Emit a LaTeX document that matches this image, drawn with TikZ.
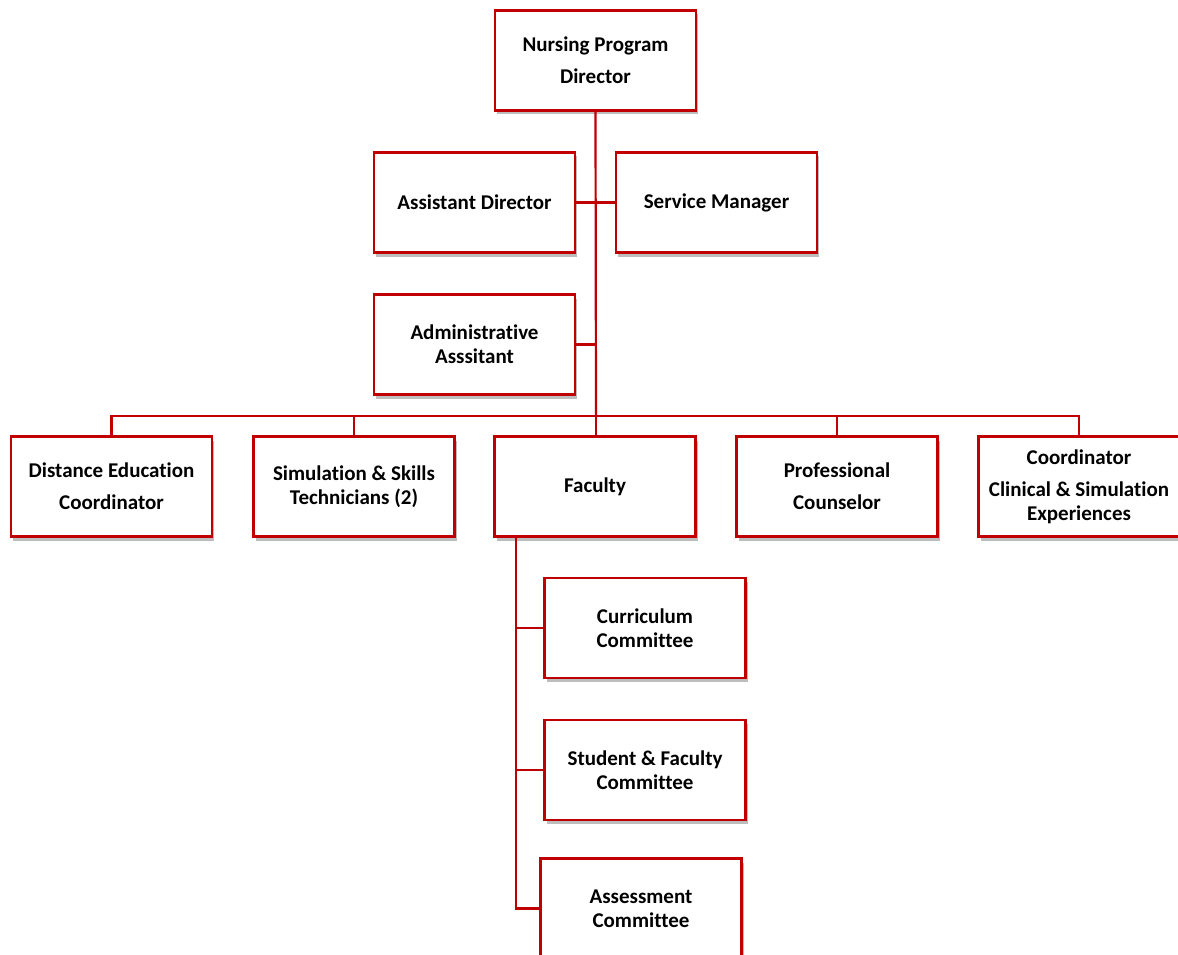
\documentclass[tikz,border=0pt]{standalone}
\usepackage{fontspec}
\setmainfont{Carlito}[Ligatures=NoCommon]
\usetikzlibrary{shadows}
\definecolor{orgred}{HTML}{C00000}
\tikzset{
  box/.style={draw=orgred, line width=2.2pt, fill=white, minimum width=201pt, minimum height=100pt,
    inner sep=0pt, align=center, font=\fontsize{21}{24}\selectfont\bfseries,
    drop shadow={opacity=0.4, shadow xshift=2pt, shadow yshift=-4pt, fill=black!65}},
  link/.style={draw=orgred, line width=2.2pt}
}
\begin{document}
\begin{tikzpicture}[x=1pt,y=-1pt]
\useasboundingbox (0,0) rectangle (1178,955);
\coordinate (bar) at (596,416);
\coordinate (fb) at (516,537);
\node[box] (dir) at (595.5,60.5) {Nursing Program\\[8pt]Director};
\node[box] (ad) at (474.5,202.5) {Assistant Director};
\node[box] (sm) at (716.5,202.5) {Service Manager};
\node[box] (aa) at (474.5,344.5) {Administrative\\Asssitant};
\node[box] (dec) at (111.5,486.5) {Distance Education\\[8pt]Coordinator};
\node[box] (sim) at (354,486.5) {Simulation \& Skills\\Technicians (2)};
\node[box] (fac) at (595,486.5) {Faculty};
\node[box] (prof) at (837,486.5) {Professional\\[8pt]Counselor};
\node[box] (coord) at (1079,486.5) {Coordinator\\[8pt]Clinical \& Simulation\\Experiences};
\node[box] (cc) at (645,628) {Curriculum\\Committee};
\node[box] (sfc) at (645,770) {Student \& Faculty\\Committee};
\node[box] (asc) at (641,908.5) {Assessment\\Committee};
% connectors
\draw[link] (dir.south) -- (bar);
\draw[link] (ad.east) -- (sm.west);
\draw[link] (aa.east) -- (aa.east -| bar);
\draw[link] (dec.north) |- (bar) -| (coord.north);
\draw[link] (sim.north) -- (sim.north |- bar);
\draw[link] (prof.north) -- (prof.north |- bar);
\draw[link] (bar) -- (bar |- fac.north);
\draw[link] (fb) |- (asc.west);
\draw[link] (fb |- cc.west) -- (cc.west);
\draw[link] (fb |- sfc.west) -- (sfc.west);
\end{tikzpicture}
\end{document}
